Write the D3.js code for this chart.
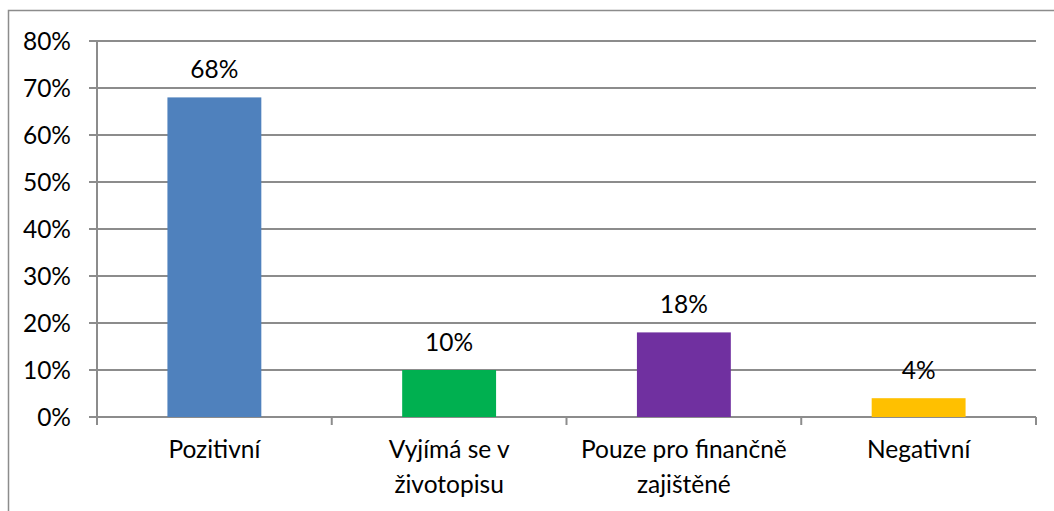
<!DOCTYPE html>
<meta charset="utf-8" />
<title>Postoj k dobrovolnictví</title>
<script src="https://d3js.org/d3.v7.min.js"></script>
<style>
  body { margin: 0; background: #fff; }
  svg text { font-family: Lato, "Open Sans", sans-serif; fill: #000; }
</style>
<svg id="chart" width="1054" height="511"></svg>
<script>
  // Data
  var categories = ["Pozitivní", "Vyjímá se v\nživotopisu", "Pouze pro finančně\nzajištěné", "Negativní"];
  var values     = [0.68, 0.10, 0.18, 0.04];
  var colors     = ["#4F81BD", "#00B050", "#7030A0", "#FFC000"];
  var yTicks     = [0, 0.1, 0.2, 0.3, 0.4, 0.5, 0.6, 0.7, 0.8];

  var fontSize = 24.5;
  var gridCol  = "#8c8c8c";

  var svg = d3.select("#chart");
  var plot = { left: 97, right: 1036, top: 41, bottom: 417 };

  // outer chart border (the picture is cropped on right and bottom)
  svg.append("rect")
    .attr("x", 8.5).attr("y", 10.5)
    .attr("width", 1100).attr("height", 600)
    .attr("fill", "none")
    .attr("stroke", gridCol)
    .attr("stroke-width", 1.5);

  var x = d3.scaleBand()
    .domain(categories)
    .range([plot.left, plot.right])
    .paddingInner(0.6)
    .paddingOuter(0.3);

  var y = d3.scaleLinear()
    .domain([0, 0.8])
    .range([plot.bottom, plot.top]);

  // gridlines
  svg.append("g")
    .selectAll("line")
    .data(yTicks)
    .join("line")
    .attr("x1", plot.left - 8).attr("x2", plot.right)
    .attr("y1", d => y(d)).attr("y2", d => y(d))
    .attr("stroke", gridCol)
    .attr("stroke-width", 2);

  // y axis line
  svg.append("line")
    .attr("x1", plot.left).attr("x2", plot.left)
    .attr("y1", plot.top).attr("y2", plot.bottom + 8)
    .attr("stroke", gridCol).attr("stroke-width", 2);

  // y tick labels
  svg.append("g")
    .selectAll("text")
    .data(yTicks)
    .join("text")
    .attr("x", 71)
    .attr("y", d => y(d))
    .attr("dy", "0.35em")
    .attr("text-anchor", "end")
    .attr("font-size", fontSize)
    .text(d3.format(".0%"));

  // x tick marks at the band boundaries
  var bounds = d3.range(categories.length + 1).map(i => plot.left + i * (plot.right - plot.left) / categories.length);
  svg.append("g")
    .selectAll("line")
    .data(bounds)
    .join("line")
    .attr("x1", d => d).attr("x2", d => d)
    .attr("y1", plot.bottom).attr("y2", plot.bottom + 8)
    .attr("stroke", gridCol).attr("stroke-width", 2);

  // bars
  svg.append("g")
    .selectAll("rect")
    .data(categories)
    .join("rect")
    .attr("x", d => x(d))
    .attr("width", x.bandwidth())
    .attr("y", (d, i) => y(values[i]))
    .attr("height", (d, i) => y(0) - y(values[i]))
    .attr("fill", (d, i) => colors[i]);

  // value labels
  svg.append("g")
    .selectAll("text")
    .data(categories)
    .join("text")
    .attr("x", d => x(d) + x.bandwidth() / 2)
    .attr("y", (d, i) => y(values[i]) - 19)
    .attr("text-anchor", "middle")
    .attr("font-size", fontSize)
    .text((d, i) => d3.format(".0%")(values[i]));

  // category labels, one tspan per line
  var cat = svg.append("g")
    .selectAll("text")
    .data(categories)
    .join("text")
    .attr("text-anchor", "middle")
    .attr("font-size", fontSize);
  cat.each(function(d) {
    var t = d3.select(this);
    d.split("\n").forEach(function(line, j) {
      t.append("tspan")
        .attr("x", x(d) + x.bandwidth() / 2)
        .attr("y", 458 + j * 35)
        .text(line);
    });
  });
</script>
